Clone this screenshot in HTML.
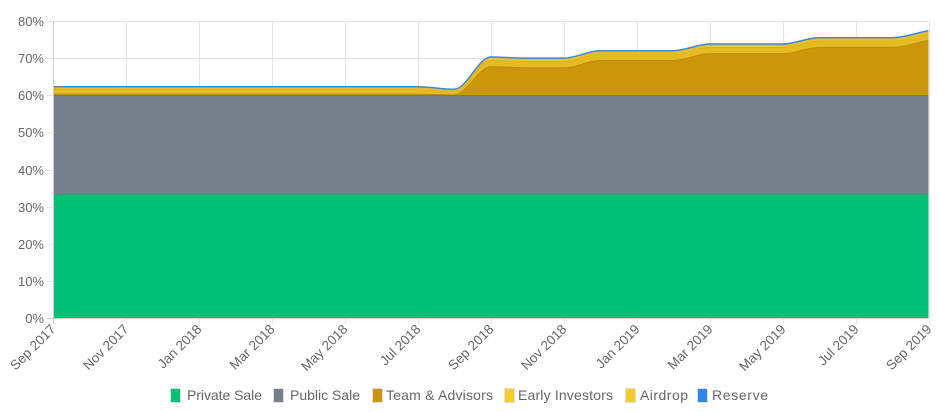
<!DOCTYPE html>
<html><head><meta charset="utf-8"><style>
html,body{margin:0;padding:0;background:#fff;}
svg{display:block;font-family:"Liberation Sans",Arial,sans-serif;}
</style></head><body>
<svg id="c" width="939" height="412" viewBox="0 0 939 412" xmlns="http://www.w3.org/2000/svg">
<g id="grid" stroke="#e5e5e5" stroke-width="1"></g>
<g id="areas"></g>
<g id="axes"></g>
<g font-size="14" fill="#666">
<rect x="170.5" y="388.5" width="10" height="14" fill="#00c176" stroke="#e0e0e0"/><text x="187" y="400" textLength="75">Private Sale</text>
<rect x="273.5" y="388.5" width="10" height="14" fill="#767f8c" stroke="#e0e0e0"/><text x="290" y="400" textLength="70">Public Sale</text>
<rect x="372.5" y="388.5" width="10" height="14" fill="#cc960c" stroke="#e0e0e0"/><text x="386" y="400" textLength="107">Team &amp; Advisors</text>
<rect x="504.5" y="388.5" width="10" height="14" fill="#f5cc2a" stroke="#e0e0e0"/><text x="518" y="400" textLength="95">Early Investors</text>
<rect x="625.5" y="388.5" width="10" height="14" fill="#f5cc2a" stroke="#e0e0e0"/><text x="640" y="400" textLength="48">Airdrop</text>
<rect x="697.5" y="388.5" width="10" height="14" fill="#2f86f0" stroke="#e0e0e0"/><text x="712" y="400" textLength="56">Reserve</text>
</g>
</svg>
<script>
(function(){
var NS="http://www.w3.org/2000/svg";
var X0=53,X1=928.5,Y0=318,Y80=21;
function X(m){return X0+m*(X1-X0)/24;}
function Y(v){return Y0-v*(Y0-Y80)/80;}
function el(p,t,a,txt){var e=document.createElementNS(NS,t);for(var k in a)e.setAttribute(k,a[k]);if(txt!==undefined)e.textContent=txt;p.appendChild(e);return e;}
var grid=document.getElementById('grid'),axes=document.getElementById('axes'),areas=document.getElementById('areas');
for(var i=0;i<=8;i++){var y=Math.round(Y(i*10))+0.5;el(grid,'line',{x1:X0-6,x2:X1,y1:y,y2:y});
 el(axes,'text',{x:44,y:y+4.5,'text-anchor':'end','font-size':'13',fill:'#666'},(i*10)+'%');}
var labs=["Sep 2017","Nov 2017","Jan 2018","Mar 2018","May 2018","Jul 2018","Sep 2018","Nov 2018","Jan 2019","Mar 2019","May 2019","Jul 2019","Sep 2019"];
for(var j=0;j<13;j++){var x=Math.round(X(j*2))+0.5;el(grid,'line',{x1:x,x2:x,y1:Y80,y2:Y0+6});
 el(axes,'text',{transform:'translate('+(x+3)+','+(Y0+12)+') rotate(-45)','text-anchor':'end','font-size':'13.5',fill:'#666'},labs[j]);}
var tp=[62.3,62.3,62.3,62.3,62.3,62.3,62.3,62.3,62.3,62.3,62.3,61.6,70.3,70,70,72,72,72,73.8,73.8,73.8,75.5,75.5,75.5,77.4];
var L0=[],L1=[],L2=[],L3=[],L4=[],L5=[];
for(var m=0;m<=24;m++){var t=tp[m];L0.push(0);L1.push(33.3);L2.push(60);
 if(m<=10){L3.push(60.4);L4.push(61.6);L5.push(62);}
 else if(m==11){L3.push(60.2);L4.push(61.0);L5.push(61.3);}
 else {L3.push(t-2.5);L4.push(t-0.8);L5.push(t-0.3);} }
function pts(a){return a.map(function(v,m){return [X(m),Y(v)];});}
function curve(p){var n=p.length,d=[],s=[];
 for(var i=0;i<n-1;i++)d.push((p[i+1][1]-p[i][1])/(p[i+1][0]-p[i][0]));
 for(var i=0;i<n;i++){if(i==0)s.push(d[0]);else if(i==n-1)s.push(d[n-2]);else if(d[i-1]*d[i]<=0)s.push(0);else s.push(2/(1/d[i-1]+1/d[i]));}
 var out='M'+p[0][0]+','+p[0][1];
 for(var i=0;i<n-1;i++){var h=(p[i+1][0]-p[i][0])/3;
  out+='C'+(p[i][0]+h)+','+(p[i][1]+s[i]*h)+' '+(p[i+1][0]-h)+','+(p[i+1][1]-s[i+1]*h)+' '+p[i+1][0]+','+p[i+1][1];}
 return out;}
function area(lo,hi,fill,stroke){var ph=pts(hi),pl=pts(lo).reverse();var d=curve(ph);d+=curve(pl).replace('M','L')+'Z';
 el(areas,'path',{d:d,fill:fill});el(areas,'path',{d:curve(ph),fill:'none',stroke:stroke,'stroke-width':1.5});}
area(L0,L1,'#00c176','#00a865');
area(L1,L2,'#767f8c','#636b78');
area(L2,L3,'#cc960c','#b88708');
area(L3,L4,'#e4bc22','#d9b01a');
area(L4,L5,'#efc63a','#e2b82c');
area(L5,tp,'#f0c53a','#3a88e0');
el(axes,'line',{x1:X0+0.5,x2:X0+0.5,y1:Y80,y2:Y0+6,stroke:'#ccc'});
el(axes,'line',{x1:X0-6,x2:X1,y1:Y0+0.5,y2:Y0+0.5,stroke:'#ccc'});
})();
</script>
</body></html>
